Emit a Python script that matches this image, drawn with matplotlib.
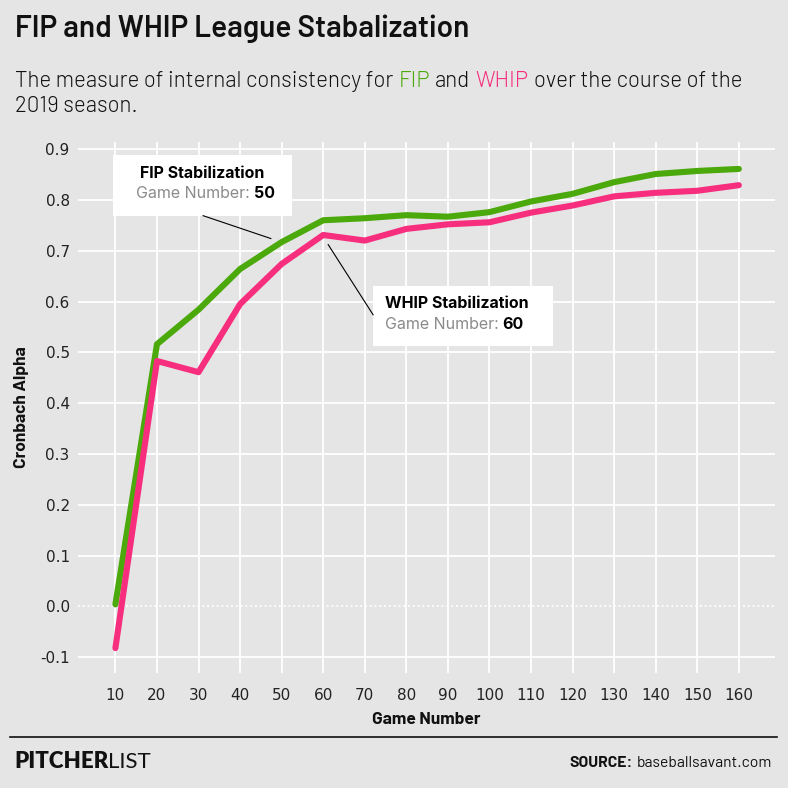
import matplotlib.pyplot as plt
from matplotlib.patches import Rectangle
from matplotlib.lines import Line2D

######################################
games = [10, 20, 30, 40, 50, 60, 70, 80, 90, 100, 110, 120, 130, 140, 150, 160]
fip   = [0.004, 0.516, 0.584, 0.664, 0.717, 0.760, 0.764, 0.770, 0.767, 0.776,
         0.797, 0.812, 0.835, 0.851, 0.857, 0.861]
whip  = [-0.082, 0.483, 0.461, 0.595, 0.674, 0.731, 0.720, 0.743, 0.752, 0.756,
         0.775, 0.789, 0.807, 0.814, 0.818, 0.829]
yticks = [-0.1, 0.0, 0.1, 0.2, 0.3, 0.4, 0.5, 0.6, 0.7, 0.8, 0.9]
fip_note  = ('FIP Stabilization', '50')
whip_note = ('WHIP Stabilization', '60')
######################################
green = '#4ba90c'
pink  = '#f72e7e'
bg    = '#e5e5e5'
ink   = '#111111'
wide  = ['Barlow', 'Barlow Semi Condensed', 'DejaVu Sans']
note  = ['Inter', 'DejaVu Sans']
W = 788.0
######################################

fig = plt.figure(figsize=(7.88, 7.88), dpi=100, facecolor=bg)
ax = fig.add_axes([78/W, 1-673/W, (775-78)/W, (673-142)/W])
ax.set_facecolor(bg)
for s in ax.spines.values(): s.set_visible(False)

ax.set_xlim(1.0, 168.7)
ax.set_ylim(-0.131, 0.914)
ax.set_xticks(games)
ax.set_yticks(yticks)
ax.set_yticklabels(['%.1f' % v for v in yticks])
ax.tick_params(length=0, labelsize=11, labelcolor='#222222')
ax.tick_params(axis='x', pad=11)
ax.tick_params(axis='y', pad=6)
ax.grid(True, color='white', linewidth=1.3)
ax.set_axisbelow(True)
# zero line dotted
for gl, v in zip(ax.get_ygridlines(), yticks):
    if v == 0.0:
        gl.set_linestyle(':')

ax.plot(games, fip, color=green, linewidth=4.4, solid_capstyle='round', solid_joinstyle='round', zorder=3)
ax.plot(games, whip, color=pink, linewidth=4.4, solid_capstyle='round', solid_joinstyle='round', zorder=4)

ax.set_xlabel('Game Number', fontsize=12.5, fontweight=700, family=wide, labelpad=6, color=ink)
ax.set_ylabel('Cronbach Alpha', fontsize=12.5, fontweight=700, family=wide, labelpad=8, color=ink)

# annotation boxes
ax.add_patch(Rectangle((9.37, 0.769), 52.6-9.37, 0.889-0.769, facecolor='white', edgecolor='none', zorder=5))
ax.plot([31.1, 47.4], [0.769, 0.724], color='black', linewidth=0.8, zorder=5)
ax.text(31.0, 0.843, fip_note[0], ha='center', va='baseline', fontsize=11.5, fontweight='bold', family=note, zorder=6)
t = ax.text(15.0, 0.803, 'Game Number:', ha='left', va='baseline', fontsize=11.5, color='#8a8a8a', family=note, zorder=6)
ax.annotate(fip_note[1], xy=(1, 0.803), xycoords=(t, 'data'), xytext=(3, 0), textcoords='offset points',
            va='baseline', fontsize=11.5, fontweight='bold', family=note, zorder=6)

ax.add_patch(Rectangle((72.0, 0.513), 115.3-72.0, 0.631-0.513, facecolor='white', edgecolor='none', zorder=5))
ax.plot([61.2, 72.0], [0.712, 0.574], color='black', linewidth=0.8, zorder=5)
ax.text(74.8, 0.587, whip_note[0], ha='left', va='baseline', fontsize=11.5, fontweight='bold', family=note, zorder=6)
t = ax.text(74.8, 0.546, 'Game Number:', ha='left', va='baseline', fontsize=11.5, color='#8a8a8a', family=note, zorder=6)
ax.annotate(whip_note[1], xy=(1, 0.546), xycoords=(t, 'data'), xytext=(3, 0), textcoords='offset points',
            va='baseline', fontsize=11.5, fontweight='bold', family=note, zorder=6)

# title / subtitle
fig.text(15/W, 1-36.7/W, 'FIP and WHIP League Stabalization', fontsize=21.4, family=wide,
         fontweight=600, va='baseline', color=ink)

def chain(parts, x, y, gap, **kw):
    prev = fig.text(x, y, parts[0][0], color=parts[0][1], va='baseline', **kw)
    for txt, col in parts[1:]:
        prev = ax.annotate(txt, xy=(1, y), xycoords=(prev, 'figure fraction'), xytext=(gap, 0),
                           textcoords='offset points', color=col, va='baseline', annotation_clip=False, **kw)
    return prev

sub_kw = dict(fontsize=16, family=wide, fontweight=300)
chain([('The measure of internal consistency for', ink), ('FIP', green), ('and', ink),
       ('WHIP', pink), ('over the course of the', ink)], 15/W, 1-87.3/W, 3.8, **sub_kw)
fig.text(15/W, 1-112.3/W, '2019 season.', va='baseline', color=ink, **sub_kw)

# footer
fig.add_artist(Line2D([10/W, 777/W], [1-736.7/W, 1-736.7/W], color=ink, linewidth=1.2))
p = fig.text(14/W, 1-768/W, 'PITCHER', fontsize=16, fontweight='heavy', family='Lato', va='baseline', color=ink)
ax.annotate('LIST', xy=(1, 1-768/W), xycoords=(p, 'figure fraction'), fontsize=16, fontweight='normal',
            family='Lato', va='baseline', color=ink, annotation_clip=False)
src = fig.text(772/W, 1-766.7/W, 'baseballsavant.com', fontsize=11.3, family=wide, ha='right', va='baseline', color=ink)
ax.annotate('SOURCE:', xy=(0, 1-766.7/W), xycoords=(src, 'figure fraction'), xytext=(-3, 0), textcoords='offset points',
            fontsize=11.3, fontweight=700, family=wide, ha='right', va='baseline', color=ink,
            annotation_clip=False)

fig.savefig('out.png', dpi=100, facecolor=bg)
